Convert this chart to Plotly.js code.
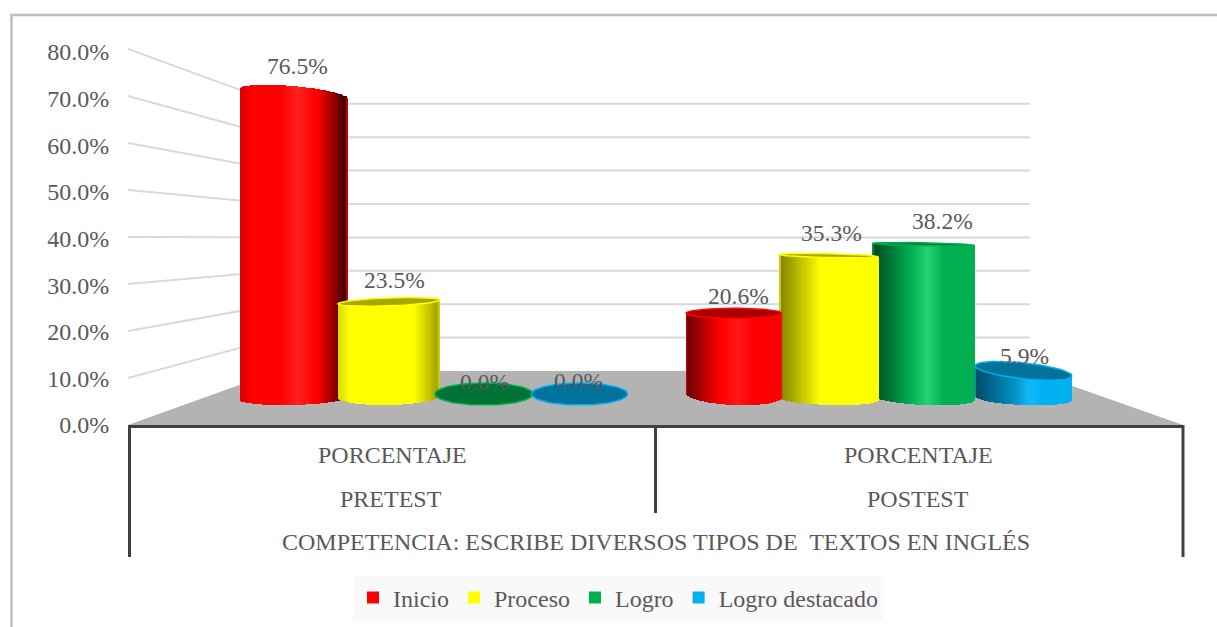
<!DOCTYPE html>
<html>
<head>
<meta charset="utf-8">
<script src="https://cdn.plot.ly/plotly-3.0.1.min.js"></script>
<style>html,body{margin:0;padding:0;background:#fff}#chart{width:1217px;height:627px}</style>
</head>
<body>
<div id="chart"></div>
<script>
// ---------- data ----------
const seriesNames = ["Inicio", "Proceso", "Logro", "Logro destacado"];
const inicio = [76.5, 20.6];
const proceso = [23.5, 35.3];
const logro = [0.0, 38.2];
const logroDestacado = [0.0, 5.9];
const groupLabels = ["PRETEST", "POSTEST"];
const measureLabel = "PORCENTAJE";
const axisTitle = "COMPETENCIA: ESCRIBE DIVERSOS TIPOS DE  TEXTOS EN INGLÉS";
const yTicks = [0, 10, 20, 30, 40, 50, 60, 70, 80];

// ---------- styling / 3D look ----------
const W = 1217, H = 627;
const plotL = 128, plotR = 1183, plotT = 46, plotB = 425;
const frontScale = 373 / 80;
const FONT = '"Liberation Serif","Times New Roman",serif';
const TEXT = '#595959';
const baseColors = [[255,0,0],[255,255,0],[0,176,80],[0,176,240]];
const valuesBySeries = [inicio, proceso, logro, logroDestacado];

// bar plane scale: value 0 sits at pixel 394, 3.92 px per percent
const barZero = 394, barScale = 3.92;
const y2Range = [(barZero - plotB) / barScale, (barZero - plotT) / barScale];
// back wall scale
const wallZero = 371, wallScale = 3.34, wallL = 278, wallR = 1030;
const mainY = px => (plotB - px) / frontScale;

// cx/hw: centre & half width; t*: top arc; b*: bottom arc (pixels); shading
const look = {
  "0-0": {cx:294,   hw:54,   tb:8, tt:5,  open:false, bc:398,   bt:-1.5, bb:7,   dl:.85, rl:.12, dr:.2, rr:.28, hi:.13},
  "1-0": {cx:389,   hw:51,   tb:4, tt:-2, open:true,  bc:396,   bt:-1,   bb:9,   dl:.85, rl:.12, dr:.6, rr:.25, hi:0},
  "2-0": {cx:484,   hw:49,   tb:11,tt:0,  open:true},
  "3-0": {cx:579.5, hw:48,   tb:11,tt:0,  open:true},
  "0-1": {cx:734,   hw:48,   tb:5, tt:0,  open:true,  bc:395,   bt:2,    bb:10,  dl:.4,  rl:.35, dr:1,  rr:.1,  hi:.1},
  "1-1": {cx:829,   hw:49.5, tb:2, tt:1,  open:true,  bc:398.5, bt:1.5,  bb:6.5, dl:.5,  rl:.42, dr:1,  rr:.1,  hi:0},
  "2-1": {cx:923.5, hw:51,   tb:1.5,tt:1, open:true,  bc:397.5, bt:2.5,  bb:7.5, dl:.38, rl:.38, dr:1,  rr:.1,  hi:.14},
  "3-1": {cx:1023.5,hw:48.5, tb:8, tt:5,  open:true,  bc:398,   bt:2,    bb:7,   dl:.42, rl:.6,  dr:1,  rr:.1,  hi:.06}
};
// drawing order (back to front)
const drawOrder = ["0-0","1-0","2-0","3-0","3-1","2-1","1-1","0-1"];
// data label placement: pixels above the bar top, pixels right of the bar centre
const labelLift = {"0-0":[28,3],"1-0":[22,5],"2-0":[12,0],"3-0":[13,-1],"0-1":[17,4],"1-1":[23,2],"2-1":[23,19],"3-1":[15,1]};

const pxToV = px => (barZero - px) / barScale;
const rgb = c => 'rgb(' + c.map(v => Math.min(255, Math.round(v))).join(',') + ')';
function shade(base, g, t) {
  let m = 1;
  if (t < g.rl) m = g.dl + (1 - g.dl) * (t / g.rl);
  else if (t > 1 - g.rr) m = 1 - (1 - g.dr) * ((t - (1 - g.rr)) / g.rr);
  const h = Math.max(0, 1 - Math.abs(t - 0.54) / 0.16) * g.hi;
  return base.map(v => Math.min(255, v * m * (1 + h)) * (1 - h) + 255 * h);
}

const traces = [];

// floor + wall gridlines on the main axes
traces.push({type:'scatter', mode:'lines', x:[plotL, wallL, wallR, plotR, plotL],
  y:[plotB, wallZero, wallZero, plotB, plotB].map(mainY), fill:'toself', fillcolor:'#B3B3B3',
  line:{width:0}, hoverinfo:'skip', showlegend:false});
const gx = [], gy = [];
yTicks.filter(v => v > 0).forEach(v => {
  const front = plotB - v * frontScale - 3 * v / 80;
  const back = wallZero - wallScale * v;
  gx.push(plotL, wallL, wallR, null);
  gy.push(mainY(front), mainY(back), mainY(back), null);
});
traces.push({type:'scatter', mode:'lines', x:gx, y:gy, line:{color:'#D9D9D9', width:2},
  hoverinfo:'skip', showlegend:false});

// cylinders
const N = 64;
const annotations = [];
drawOrder.forEach(key => {
  const [s, c] = key.split('-').map(Number);
  const v = valuesBySeries[s][c];
  const g = look[key], base = baseColors[s];
  const topPx = barZero - barScale * v;
  if (v > 0) {
    const xs = [], bases = [], heights = [], cols = [];
    for (let i = 0; i < N; i++) {
      const t = (i + 0.5) / N, u = 2 * t - 1, arc = Math.sqrt(1 - u * u);
      const lo = g.bc + g.bt * u + g.bb * arc;
      const hiPx = g.open ? topPx + g.tt * u : topPx + g.tt * u - g.tb * arc;
      xs.push(g.cx + g.hw * u);
      bases.push(pxToV(lo));
      heights.push(pxToV(hiPx) - pxToV(lo));
      cols.push(Math.abs(u) > 0.975 ? rgb(base.map(x => x * (t < .5 ? Math.max(g.dl, .8) : Math.max(g.dr, .8)))) : rgb(shade(base, g, t)));
    }
    traces.push({type:'bar', x:xs, y:heights, base:bases, width:2 * g.hw / N + 0.6,
      marker:{color:cols, line:{width:0}}, xaxis:'x', yaxis:'y2', hoverinfo:'skip', showlegend:false});
  }
  if (g.open) {
    const ex = [], ey = [];
    for (let i = 0; i <= 72; i++) {
      const a = i / 72 * 2 * Math.PI, u = Math.cos(a);
      ex.push(g.cx + g.hw * u);
      ey.push(pxToV(topPx + g.tt * u + g.tb * Math.sin(a)));
    }
    traces.push({type:'scatter', mode:'lines', x:ex, y:ey, xaxis:'x', yaxis:'y2', fill:'toself',
      fillcolor:rgb(base.map(x => x * 0.65)), line:{color:rgb(base), width:1.5},
      hoverinfo:'skip', showlegend:false});
  }
  const lift = labelLift[key];
  annotations.push({xref:'x', yref:'y2', x:g.cx, y:v, xshift:lift[1], yshift:lift[0], text:v.toFixed(1) + '%',
    showarrow:false, xanchor:'center', yanchor:'middle', font:{family:FONT, size:23.5, color:TEXT}});
});

// legend entries
seriesNames.forEach((name, i) => traces.push({type:'bar', x:[null], y:[null], name, xaxis:'x', yaxis:'y2',
  marker:{color:rgb(baseColors[i])}, showlegend:true}));

// category table
const pX = px => (px - plotL) / (plotR - plotL);
const pY = py => (plotB - py) / (plotB - plotT);
const tableText = [[392, 455, measureLabel],[918, 455, measureLabel],[391, 499, groupLabels[0]],[918, 499, groupLabels[1]],[656, 542, axisTitle]];
tableText.forEach(([x, y, text]) => annotations.push({xref:'paper', yref:'paper', x:pX(x), y:pY(y), text, showarrow:false,
  xanchor:'center', yanchor:'middle', font:{family:FONT, size:24, color:TEXT}}));

const vline = (x, y0, y1, color, width) => ({type:'line', xref:'paper', yref:'paper', x0:pX(x), x1:pX(x), y0:pY(y0), y1:pY(y1), line:{color, width}});
const shapes = [
  vline(129.5, 425, 557, '#404040', 3), vline(655.5, 425, 513, '#404040', 3), vline(1183, 425, 557, '#404040', 3),
  vline(11.5, 15, 627, '#BFBFBF', 2.5),
  {type:'line', xref:'paper', yref:'paper', x0:pX(10), x1:pX(1217), y0:pY(15), y1:pY(15), line:{color:'#BFBFBF', width:2.5}}
];

const layout = {
  width:W, height:H, showlegend:true, barmode:'overlay', bargap:0,
  paper_bgcolor:'#fff', plot_bgcolor:'rgba(0,0,0,0)',
  margin:{l:plotL, r:W - plotR, t:plotT, b:H - plotB, pad:0},
  font:{family:FONT, color:TEXT},
  xaxis:{range:[plotL, plotR], showgrid:false, zeroline:false, showticklabels:false, ticks:'',
    showline:true, linecolor:'#404040', linewidth:3, fixedrange:true},
  yaxis:{range:[0, (plotB - plotT) / frontScale], tickmode:'array', tickvals:yTicks, ticktext:yTicks.map(v => v.toFixed(1) + '%'),
    showgrid:false, zeroline:false, ticks:'outside', ticklen:13, tickcolor:'rgba(0,0,0,0)', showline:false, fixedrange:true,
    tickfont:{family:FONT, size:24, color:TEXT}},
  yaxis2:{range:y2Range, overlaying:'y', anchor:'x', visible:false, fixedrange:true},
  legend:{orientation:'h', xref:'container', yref:'container', x:618 / W, y:1 - 598 / H, xanchor:'center', yanchor:'middle', bgcolor:'#F9F9F9',
    font:{family:FONT, size:24, color:TEXT}, itemclick:false, itemdoubleclick:false},
  annotations, shapes
};
Plotly.newPlot('chart', traces, layout, {displayModeBar:false, responsive:false});
</script>
</body>
</html>
